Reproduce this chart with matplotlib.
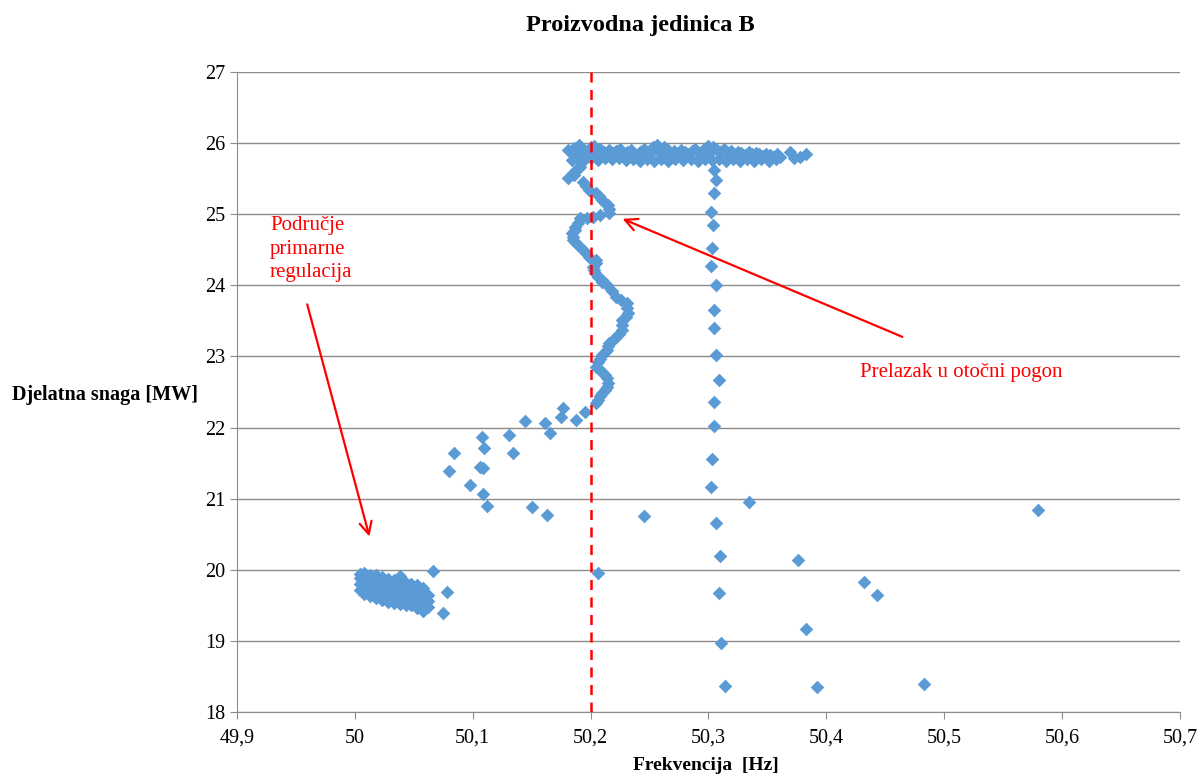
import matplotlib
matplotlib.use('Agg')
import matplotlib.pyplot as plt
from matplotlib.ticker import FuncFormatter, MultipleLocator

plt.rcParams['font.family'] = ['Liberation Serif', 'DejaVu Serif']

TITLE = 'Proizvodna jedinica B'
X_LABEL = 'Frekvencija  [Hz]'
Y_LABEL = 'Djelatna snaga [MW]'
NOTE_PRIMARY = 'Područje\nprimarne\nregulacija'
NOTE_ISLAND = 'Prelazak u otočni pogon'
LIMIT_HZ = 50.2

# cluster in the primary regulation area (frequency, power)
cluster = [
    (50.004, 19.72), (50.004, 19.80), (50.004, 19.88), (50.004, 19.94),
    (50.008, 19.66), (50.008, 19.74), (50.008, 19.82), (50.008, 19.90), (50.008, 19.95),
    (50.013, 19.63), (50.013, 19.70), (50.013, 19.78), (50.013, 19.86), (50.013, 19.92),
    (50.018, 19.60), (50.018, 19.68), (50.018, 19.76), (50.018, 19.84), (50.018, 19.93),
    (50.023, 19.58), (50.023, 19.66), (50.023, 19.74), (50.023, 19.82), (50.023, 19.90),
    (50.028, 19.55), (50.028, 19.63), (50.028, 19.71), (50.028, 19.79), (50.028, 19.87),
    (50.033, 19.54), (50.033, 19.61), (50.033, 19.69), (50.033, 19.77), (50.033, 19.85),
    (50.038, 19.52), (50.038, 19.60), (50.038, 19.68), (50.038, 19.76), (50.038, 19.84), (50.038, 19.91),
    (50.043, 19.50), (50.043, 19.58), (50.043, 19.66), (50.043, 19.74), (50.043, 19.82),
    (50.048, 19.50), (50.048, 19.57), (50.048, 19.65), (50.048, 19.72), (50.048, 19.80),
    (50.053, 19.46), (50.053, 19.54), (50.053, 19.62), (50.053, 19.70), (50.053, 19.78),
    (50.058, 19.42), (50.058, 19.50), (50.058, 19.58), (50.058, 19.66), (50.058, 19.74),
    (50.062, 19.48), (50.062, 19.56), (50.062, 19.64),
    (50.066, 19.99), (50.078, 19.69), (50.075, 19.39),
]

# sparse rise from the cluster towards 50.2 Hz
rise = [
    (50.084, 21.64), (50.080, 21.39), (50.108, 21.87), (50.110, 21.71),
    (50.106, 21.45), (50.109, 21.43), (50.098, 21.19), (50.109, 21.07),
    (50.112, 20.90), (50.131, 21.90), (50.134, 21.64), (50.144, 22.09),
    (50.161, 22.06), (50.166, 21.92), (50.150, 20.88), (50.163, 20.77),
    (50.177, 22.28), (50.175, 22.15), (50.188, 22.11), (50.195, 22.22),
    (50.205, 22.35),
]

# S-shaped path just above 50.2 Hz
s_curve = [
    (50.206, 22.39), (50.208, 22.44), (50.210, 22.49), (50.212, 22.53), (50.214, 22.57),
    (50.215, 22.63), (50.214, 22.70), (50.212, 22.74), (50.210, 22.78), (50.207, 22.82),
    (50.205, 22.85), (50.206, 22.92), (50.208, 22.97), (50.210, 23.02), (50.212, 23.06),
    (50.214, 23.09), (50.215, 23.14), (50.216, 23.19), (50.219, 23.23), (50.222, 23.27),
    (50.224, 23.32), (50.227, 23.37), (50.227, 23.44), (50.227, 23.51), (50.230, 23.56),
    (50.232, 23.61), (50.231, 23.68), (50.231, 23.75), (50.226, 23.80), (50.222, 23.84),
    (50.218, 23.92), (50.214, 24.00), (50.210, 24.05), (50.210, 24.08), (50.206, 24.12),
    (50.204, 24.17), (50.203, 24.22), (50.202, 24.26), (50.205, 24.31), (50.205, 24.36),
    (50.199, 24.40), (50.196, 24.45), (50.194, 24.50), (50.190, 24.55), (50.188, 24.60),
    (50.185, 24.64), (50.185, 24.68), (50.184, 24.74), (50.187, 24.78), (50.187, 24.82),
    (50.189, 24.88), (50.191, 24.95), (50.197, 24.95), (50.202, 24.96), (50.208, 24.99),
    (50.216, 25.02), (50.216, 25.08), (50.215, 25.13), (50.212, 25.16), (50.210, 25.20),
    (50.207, 25.25), (50.205, 25.30), (50.199, 25.34), (50.196, 25.40), (50.194, 25.45),
    (50.181, 25.51), (50.185, 25.58), (50.188, 25.62), (50.191, 25.66), (50.186, 25.55),
]

# plateau at ~25.85 MW after islanding
band = [
    (50.181, 25.90), (50.184, 25.86), (50.186, 25.93), (50.189, 25.88), (50.192, 25.84),
    (50.194, 25.91), (50.197, 25.87), (50.200, 25.95), (50.202, 25.90), (50.205, 25.85),
    (50.208, 25.91), (50.211, 25.87), (50.214, 25.83), (50.216, 25.90), (50.219, 25.86),
    (50.222, 25.89), (50.225, 25.92), (50.228, 25.85), (50.231, 25.88), (50.234, 25.90),
    (50.236, 25.86), (50.239, 25.83), (50.242, 25.88), (50.245, 25.91), (50.248, 25.86),
    (50.251, 25.89), (50.253, 25.94), (50.256, 25.90), (50.259, 25.92), (50.262, 25.87),
    (50.265, 25.91), (50.268, 25.85), (50.271, 25.89), (50.274, 25.86), (50.277, 25.90),
    (50.280, 25.87), (50.283, 25.84), (50.286, 25.89), (50.289, 25.91), (50.292, 25.86),
    (50.295, 25.90), (50.298, 25.93), (50.301, 25.88), (50.304, 25.95), (50.307, 25.90),
    (50.310, 25.87), (50.313, 25.91), (50.316, 25.86), (50.319, 25.89), (50.322, 25.85),
    (50.325, 25.88), (50.328, 25.86), (50.331, 25.83), (50.334, 25.87), (50.337, 25.84),
    (50.340, 25.86), (50.343, 25.84), (50.346, 25.82), (50.349, 25.85), (50.352, 25.83),
    (50.355, 25.80), (50.358, 25.84), (50.361, 25.81), (50.369, 25.87), (50.373, 25.79),
    (50.378, 25.81), (50.383, 25.85),
    (50.184, 25.76), (50.189, 25.78), (50.194, 25.75), (50.200, 25.79), (50.206, 25.76),
    (50.212, 25.79), (50.218, 25.77), (50.224, 25.79), (50.230, 25.76), (50.236, 25.78),
    (50.242, 25.75), (50.248, 25.78), (50.254, 25.75), (50.260, 25.77), (50.266, 25.75),
    (50.272, 25.78), (50.278, 25.76), (50.285, 25.78), (50.291, 25.75), (50.297, 25.77),
    (50.303, 25.76), (50.309, 25.78), (50.315, 25.75), (50.321, 25.77), (50.327, 25.75),
    (50.333, 25.77), (50.339, 25.75), (50.345, 25.77), (50.351, 25.75), (50.357, 25.77),
    (50.190, 25.97), (50.203, 25.96), (50.256, 25.97), (50.262, 25.95), (50.300, 25.96),
]

# near-vertical column at ~50.305 Hz
column = [
    (50.305, 25.62), (50.306, 25.48), (50.305, 25.30), (50.302, 25.03), (50.304, 24.85),
    (50.303, 24.52), (50.302, 24.27), (50.306, 24.00), (50.305, 23.65), (50.305, 23.40),
    (50.306, 23.02), (50.309, 22.67), (50.305, 22.36), (50.305, 22.02), (50.303, 21.56),
    (50.302, 21.16), (50.306, 20.66), (50.310, 20.20), (50.309, 19.67), (50.311, 18.97),
    (50.314, 18.37),
]

# isolated points
outliers = [
    (50.334, 20.96), (50.376, 20.14), (50.432, 19.83), (50.443, 19.65),
    (50.383, 19.17), (50.392, 18.35), (50.483, 18.39), (50.580, 20.84),
    (50.245, 20.76), (50.206, 19.95),
]

fig = plt.figure(figsize=(12.04, 7.78), dpi=100)
ax = fig.add_axes([0.1968, 0.0848, 0.7832, 0.8227])

for seg in (cluster, rise, s_curve, band, column, outliers):
    xs = [p[0] for p in seg]
    ys = [p[1] for p in seg]
    ax.scatter(xs, ys, marker='D', s=48, color='#5B9BD5', linewidths=0, zorder=3)

ax.axvline(LIMIT_HZ, color='red', linestyle=(0, (4, 3)), linewidth=1.8, zorder=4)

ax.set_xlim(49.9, 50.7)
ax.set_ylim(18, 27)
ax.xaxis.set_major_locator(MultipleLocator(0.1))
ax.yaxis.set_major_locator(MultipleLocator(1))
ax.xaxis.set_major_formatter(FuncFormatter(lambda v, p: f'{v:.1f}'.rstrip('0').rstrip('.').replace('.', ',')))
ax.yaxis.set_major_formatter(FuncFormatter(lambda v, p: f'{v:.0f}'))

ax.grid(axis='y', color='#8c8c8c', linewidth=1)
ax.set_axisbelow(True)
for side in ('top', 'right'):
    ax.spines[side].set_visible(False)
for side in ('left', 'bottom'):
    ax.spines[side].set_color('#8c8c8c')
ax.tick_params(axis='both', colors='#8c8c8c', labelcolor='black', labelsize=14.5, length=5, direction='out')
ax.tick_params(axis='x', pad=7)

fig.text(640 / 1204, 1 - 25 / 778, TITLE, fontsize=17.5, fontweight='bold', ha='center', va='center')
fig.text(706 / 1204, 1 - 766 / 778, X_LABEL, fontsize=14, fontweight='bold', ha='center', va='center')
fig.text(12 / 1204, 1 - 395 / 778, Y_LABEL, fontsize=14.5, fontweight='bold', ha='left', va='center')

ax.text(49.928, 24.97, NOTE_PRIMARY, color='red', fontsize=15, ha='left', va='top',
        multialignment='left', linespacing=1.3)
ax.annotate('', xy=(50.013, 20.43), xytext=(49.959, 23.77),
            arrowprops=dict(arrowstyle='->', color='red', lw=1.6, mutation_scale=22))
ax.text(50.4285, 22.77, NOTE_ISLAND, color='red', fontsize=15, ha='left', va='center')
ax.annotate('', xy=(50.225, 24.95), xytext=(50.4667, 23.26),
            arrowprops=dict(arrowstyle='->', color='red', lw=1.6, mutation_scale=22))

fig.savefig('out.png', dpi=100)
